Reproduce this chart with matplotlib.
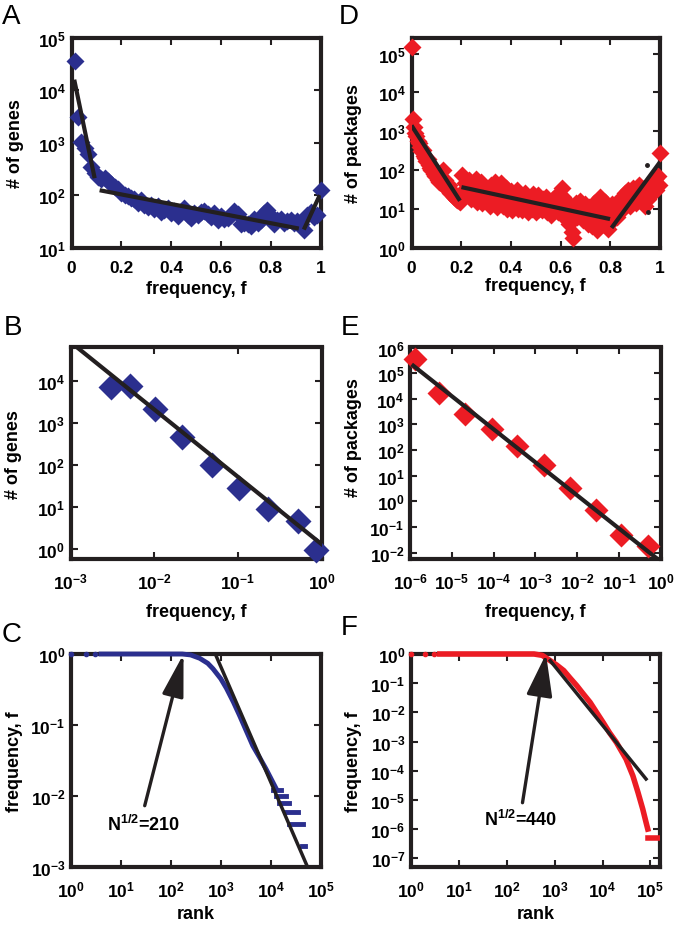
import numpy as np
import matplotlib
matplotlib.use('Agg')
import matplotlib.pyplot as plt

plt.rcParams['font.family'] = ['Liberation Sans', 'DejaVu Sans']
plt.rcParams['font.weight'] = 'bold'
plt.rcParams['mathtext.fontset'] = 'custom'
plt.rcParams['mathtext.rm'] = 'Liberation Sans:bold'
plt.rcParams['mathtext.bf'] = 'Liberation Sans:bold'
plt.rcParams['mathtext.it'] = 'Liberation Sans:bold'
plt.rcParams['mathtext.default'] = 'bf'
plt.rcParams['axes.unicode_minus'] = False

BLUE = '#2b2f8e'
RED = '#ec1c24'
INK = '#231f20'
W, H = 677, 929

# ---------- data ----------
# A: genes per frequency bin (f, count)
A_pts = [(0.013, 36000), (0.027, 3100), (0.04, 1050), (0.053, 800), (0.067, 620),
         (0.08, 350), (0.093, 260), (0.107, 220), (0.12, 200), (0.133, 210),
         (0.147, 190), (0.16, 160), (0.173, 140), (0.187, 130), (0.2, 110),
         (0.213, 100), (0.227, 95), (0.24, 90), (0.253, 85), (0.267, 72),
         (0.28, 80), (0.293, 66), (0.307, 60), (0.32, 65), (0.333, 55),
         (0.347, 62), (0.36, 48), (0.373, 52), (0.387, 56), (0.4, 45),
         (0.413, 50), (0.427, 40), (0.44, 48), (0.453, 58), (0.467, 42),
         (0.48, 36), (0.493, 45), (0.507, 42), (0.52, 48), (0.533, 50),
         (0.547, 44), (0.56, 38), (0.573, 45), (0.587, 33), (0.6, 40),
         (0.613, 35), (0.627, 36), (0.64, 42), (0.653, 50), (0.667, 44),
         (0.68, 28), (0.693, 30), (0.707, 28), (0.72, 26), (0.733, 35),
         (0.747, 30), (0.76, 34), (0.773, 45), (0.787, 52), (0.8, 40),
         (0.813, 28), (0.827, 33), (0.84, 35), (0.853, 30), (0.867, 32),
         (0.88, 34), (0.893, 30), (0.907, 32), (0.92, 28), (0.933, 22),
         (0.947, 42), (0.96, 48), (0.973, 38), (0.987, 42), (1.0, 124)]
A_fit = [([0.011, 0.093], [16000, 210]),
         ([0.113, 0.913], [124, 23]),
         ([0.933, 0.997], [22, 100])]

# D: packages per frequency bin (f, count)
D_pts = [(0.004, 150000),
         (0.005, 2000), (0.01, 1300), (0.015, 900), (0.02, 750), (0.025, 550),
         (0.03, 480), (0.035, 380), (0.04, 300), (0.045, 320), (0.05, 230),
         (0.055, 200), (0.06, 170), (0.065, 190), (0.07, 130), (0.075, 115),
         (0.08, 100), (0.085, 110), (0.09, 80), (0.095, 70), (0.1, 75),
         (0.105, 55), (0.11, 50), (0.115, 60), (0.12, 45), (0.125, 100),
         (0.13, 40), (0.135, 55), (0.14, 35), (0.145, 30), (0.15, 40),
         (0.155, 25), (0.16, 28), (0.165, 22), (0.17, 20), (0.175, 24),
         (0.18, 18), (0.185, 17), (0.19, 16), (0.195, 15),
         (0.205, 75), (0.21, 30), (0.215, 45), (0.22, 22), (0.225, 35),
         (0.23, 55), (0.235, 25), (0.24, 18), (0.245, 40), (0.25, 28),
         (0.255, 20), (0.26, 60), (0.265, 15), (0.27, 32), (0.275, 22),
         (0.28, 48), (0.285, 14), (0.29, 26), (0.295, 35), (0.3, 18),
         (0.31, 22), (0.315, 12), (0.32, 40), (0.325, 28), (0.33, 16),
         (0.335, 50), (0.34, 20), (0.345, 11), (0.35, 30), (0.355, 14),
         (0.36, 45), (0.365, 18), (0.37, 12), (0.375, 25), (0.38, 35),
         (0.385, 10), (0.39, 20), (0.395, 15), (0.4, 28), (0.405, 9),
         (0.41, 18), (0.415, 24), (0.42, 12), (0.425, 30), (0.43, 10),
         (0.435, 16), (0.44, 22), (0.445, 9), (0.45, 14), (0.455, 25),
         (0.46, 11), (0.465, 18), (0.47, 8), (0.475, 15), (0.48, 20),
         (0.485, 10), (0.49, 24), (0.495, 12), (0.5, 8), (0.505, 16),
         (0.51, 22), (0.515, 10), (0.52, 14), (0.525, 9), (0.53, 18),
         (0.535, 12), (0.54, 20), (0.545, 8), (0.55, 15), (0.555, 11),
         (0.56, 7), (0.565, 13), (0.57, 18), (0.575, 9), (0.58, 12),
         (0.585, 22), (0.59, 8), (0.595, 14), (0.6, 10), (0.605, 35),
         (0.61, 20), (0.615, 6), (0.62, 11), (0.625, 15), (0.63, 8),
         (0.635, 4), (0.64, 12), (0.645, 2.5), (0.65, 1.8), (0.655, 9),
         (0.66, 14), (0.665, 6), (0.67, 10), (0.675, 7), (0.68, 16),
         (0.685, 11), (0.69, 5), (0.695, 9), (0.7, 13), (0.705, 8),
         (0.71, 4), (0.715, 11), (0.72, 6), (0.725, 3.5), (0.73, 9),
         (0.735, 14), (0.74, 7), (0.745, 2.8), (0.75, 5), (0.755, 12),
         (0.76, 20), (0.765, 8), (0.77, 4), (0.775, 10), (0.78, 15),
         (0.785, 6), (0.79, 3), (0.795, 11), (0.8, 8),
         (0.805, 13), (0.81, 5), (0.815, 9), (0.82, 12), (0.825, 6),
         (0.83, 16), (0.835, 10), (0.84, 8), (0.845, 14), (0.85, 20),
         (0.855, 11), (0.86, 25), (0.865, 15), (0.87, 30), (0.875, 18),
         (0.88, 12), (0.885, 22), (0.89, 35), (0.895, 17), (0.9, 28),
         (0.905, 14), (0.91, 20), (0.915, 40), (0.92, 25), (0.925, 16),
         (0.93, 32), (0.935, 22), (0.94, 12), (0.945, 28), (0.95, 18),
         (0.955, 40), (0.96, 25), (0.965, 30), (0.97, 48), (0.975, 35),
         (0.98, 60), (0.985, 30), (0.99, 70), (0.995, 40), (1.0, 270)]
D_fit = [([0.0, 0.195], [1400, 16]),
         ([0.201, 0.799], [36, 5.4]),
         ([0.805, 1.0], [3.2, 160])]
D_dots_f = [0.949, 0.953]
D_dots_n = [130, 8]

# B: log-binned genes
fB = [0.00306, 0.00519, 0.0103, 0.0218, 0.0489, 0.1033, 0.231, 0.525, 0.85]
nB = [7000, 7500, 2100, 450, 100, 28, 8.9, 4.7, 0.96]
B_fit = ([1e-3, 1.0], [83000, 1.3])

# E: log-binned packages
fE = [1.32e-6, 4.9e-6, 2.04e-5, 8.9e-5, 3.63e-4, 1.58e-3, 6.6e-3, 2.75e-2, 0.112, 0.479]
nE = [3.5e5, 1.66e4, 2.5e3, 692, 148, 26, 3.2, 0.44, 0.049, 0.0186]
E_fit = ([1.2e-6, 0.83], [1.95e5, 5.6e-3])

# C: rank-frequency, genes
C_dot_rank = [1, 2, 3]
C_rank = [4, 170, 250, 380, 550, 700, 1000, 1300, 1800, 2400, 3200, 4400,
          6000, 8100, 10000, 12700]
C_freq = [1.0, 1.0, 0.97, 0.87, 0.74, 0.62, 0.45, 0.33, 0.21, 0.135, 0.085,
          0.051, 0.035, 0.024, 0.018, 0.013]
C_steps = [(0.012, 1.1e4, 1.6e4), (0.010, 1.26e4, 2.0e4), (0.008, 1.5e4, 2.3e4),
           (0.006, 1.9e4, 3.5e4), (0.004, 2.3e4, 4.4e4), (0.002, 4.2e4, 4.9e4)]
C_fit = ([780, 5.5e4], [1.0, 1e-3])
C_arrow = ((180, 1.0), (30, 0.0073))
C_note = (29, 0.0040, r'N$^{1/2}$=210')

# F: rank-frequency, packages
F_dot_rank = [1, 2, 3]
F_rank = [4, 370, 550, 810, 1100, 1550, 2100, 2900, 4000, 5500, 7500, 1.03e4,
          1.4e4, 1.95e4, 3.1e4, 4.3e4, 5.5e4, 6.9e4, 8.1e4, 8.8e4]
F_freq = [1.0, 1.0, 0.9, 0.59, 0.42, 0.27, 0.15, 0.082, 0.042, 0.022, 0.01,
          4.5e-3, 2e-3, 9.3e-4, 2.5e-4, 6.7e-5, 1.8e-5, 4.9e-6, 1.7e-6, 1e-6]
F_steps = [(4.9e-7, 8.8e4, 1.6e5)]
F_fit = ([810, 8.1e4], [0.59, 5.2e-5])
F_arrow = ((660, 1.0), (213, 8e-6))
F_note = (195, 2.2e-6, r'N$^{1/2}$=440')

# ---------- layout helpers ----------
fig = plt.figure(figsize=(W / 100, H / 100), dpi=100)


def add_ax(box):
    x0, y0, x1, y1 = box
    return fig.add_axes([x0 / W, 1 - y1 / H, (x1 - x0) / W, (y1 - y0) / H])


def pow10(exps):
    return [r'$10^{%d}$' % e for e in exps]


def style(ax, box, xlab, xlab_top, ylab, ylab_right, ylab_mid=None):
    x0, y0, x1, y1 = box
    for s in ax.spines.values():
        s.set_linewidth(3)
        s.set_color(INK)
    ax.minorticks_off()
    ax.tick_params(direction='in', top=True, right=True, length=5, width=1.5,
                   color=INK, labelsize=12.5)
    ax.tick_params(axis='x', pad=9)
    ax.tick_params(axis='y', pad=4)
    ax.set_xlabel(xlab, fontsize=13, fontweight='bold')
    ax.set_ylabel(ylab, fontsize=13, fontweight='bold')
    ax.xaxis.set_label_coords(0.5, (y1 - xlab_top) / (y1 - y0))
    if ylab_mid is None:
        ylab_mid = (y0 + y1) / 2
    ax.yaxis.set_label_coords((ylab_right - x0) / (x1 - x0), (y1 - ylab_mid) / (y1 - y0))


def letter(x, y, s):
    fig.text(x / W, 1 - y / H, s, fontsize=20, fontweight='normal',
             ha='left', va='top')


boxA = (71.5, 39, 320.5, 248.5)
boxD = (411.5, 39, 660, 248.5)
boxB = (70.5, 348.5, 321.5, 560)
boxE = (410, 348.5, 661, 560)
boxC = (71, 655, 320.5, 868)
boxF = (411, 655, 660, 868)

lin_ticks = [0, 0.2, 0.4, 0.6, 0.8, 1]
lin_labels = ['0', '0.2', '0.4', '0.6', '0.8', '1']

# ---------- A ----------
ax = add_ax(boxA)
fA, nA = zip(*A_pts)
ax.plot(fA, nA, 'D', ms=9, color=BLUE, mec='none', clip_on=False, zorder=3)
for xs, ys in A_fit:
    ax.plot(xs, ys, color=INK, lw=3, solid_capstyle='butt', zorder=4)
ax.set_yscale('log')
ax.set_xlim(0, 1)
ax.set_ylim(1e1, 1e5)
ax.set_xticks(lin_ticks, lin_labels)
ax.set_yticks([10.0 ** e for e in range(1, 6)], pow10(range(1, 6)))
style(ax, boxA, 'frequency, f', 281, '# of genes', 24)

# ---------- D ----------
ax = add_ax(boxD)
fD, nD = zip(*D_pts)
ax.plot(fD, nD, 'D', ms=9.5, color=RED, mec='none', clip_on=False, zorder=3)
for xs, ys in D_fit:
    ax.plot(xs, ys, color=INK, lw=3, solid_capstyle='butt', zorder=4)
ax.plot(D_dots_f, D_dots_n, 'o', ms=2.5, color=INK, zorder=4)
ax.set_yscale('log')
ax.set_xlim(0, 1)
ax.set_ylim(1, 10 ** 5.4)
ax.set_xticks(lin_ticks, lin_labels)
ax.set_yticks([10.0 ** e for e in range(0, 6)], pow10(range(0, 6)))
style(ax, boxD, 'frequency, f', 278, '# of packages', 362)

# ---------- B ----------
ax = add_ax(boxB)
ax.plot(fB, nB, 'D', ms=13, color=BLUE, mec='none', clip_on=False, zorder=3)
ax.plot(*B_fit, color=INK, lw=3, zorder=4)
ax.set_xscale('log')
ax.set_yscale('log')
ax.set_xlim(1e-3, 1)
ax.set_ylim(10 ** -0.24, 10 ** 4.79)
ax.set_xticks([10.0 ** e for e in range(-3, 1)], pow10(range(-3, 1)))
ax.set_yticks([10.0 ** e for e in range(0, 5)], pow10(range(0, 5)))
style(ax, boxB, 'frequency, f', 604, '# of genes', 22)

# ---------- E ----------
ax = add_ax(boxE)
ax.plot(fE, nE, 'D', ms=12, color=RED, mec='none', clip_on=False, zorder=3)
ax.plot(*E_fit, color=INK, lw=3, zorder=4)
ax.set_xscale('log')
ax.set_yscale('log')
ax.set_xlim(1e-6, 1)
ax.set_ylim(10 ** -2.25, 1e6)
ax.set_xticks([10.0 ** e for e in range(-6, 1)], pow10(range(-6, 1)))
ax.set_yticks([10.0 ** e for e in range(-2, 7)], pow10(range(-2, 7)))
style(ax, boxE, 'frequency, f', 604, '# of packages', 362, 438)

# ---------- C ----------
ax = add_ax(boxC)
ax.plot(C_dot_rank, [1.0] * len(C_dot_rank), 'o', ms=3, color=BLUE, clip_on=False, zorder=3)
ax.plot(C_rank, C_freq, color=BLUE, lw=3.5, clip_on=False, zorder=3)
for lev, r0, r1 in C_steps:
    ax.plot([r0, r1], [lev, lev], color=BLUE, lw=3.5, zorder=3)
ax.plot(*C_fit, color=INK, lw=2.5, zorder=4)
(tip, tail) = C_arrow
ax.annotate('', xy=tip, xytext=tail,
            arrowprops=dict(arrowstyle='-|>,head_length=1.3,head_width=0.33',
                            mutation_scale=20, lw=2.4, color=INK,
                            shrinkA=0, shrinkB=0), zorder=5)
ax.text(C_note[0], C_note[1], C_note[2], fontsize=13, fontweight='bold',
        ha='center', va='center')
ax.set_xscale('log')
ax.set_yscale('log')
ax.set_xlim(1, 1e5)
ax.set_ylim(1e-3, 1)
ax.set_xticks([10.0 ** e for e in range(0, 6)], pow10(range(0, 6)))
ax.set_yticks([10.0 ** e for e in range(-3, 1)], pow10(range(-3, 1)))
style(ax, boxC, 'rank', 906, 'frequency, f', 23)

# ---------- F ----------
ax = add_ax(boxF)
ax.plot(F_dot_rank, [1.0] * len(F_dot_rank), 'o', ms=3, color=RED, clip_on=False, zorder=3)
ax.plot(F_rank, F_freq, color=RED, lw=4, clip_on=False, zorder=3)
for lev, r0, r1 in F_steps:
    ax.plot([r0, r1], [lev, lev], color=RED, lw=4, zorder=3)
ax.plot(*F_fit, color=INK, lw=2.5, zorder=4)
(tip, tail) = F_arrow
ax.annotate('', xy=tip, xytext=tail,
            arrowprops=dict(arrowstyle='-|>,head_length=1.3,head_width=0.4',
                            mutation_scale=20, lw=2.4, color=INK,
                            shrinkA=0, shrinkB=0), zorder=5)
ax.text(F_note[0], F_note[1], F_note[2], fontsize=13, fontweight='bold',
        ha='center', va='center')
ax.set_xscale('log')
ax.set_yscale('log')
ax.set_xlim(1, 10 ** 5.2)
ax.set_ylim(10 ** -7.3, 1)
ax.set_xticks([10.0 ** e for e in range(0, 6)], pow10(range(0, 6)))
ax.set_yticks([10.0 ** e for e in range(-7, 1)], pow10(range(-7, 1)))
style(ax, boxF, 'rank', 906, 'frequency, f', 362)

letter(2, 4, 'A')
letter(339, 4, 'D')
letter(4, 315, 'B')
letter(341, 315, 'E')
letter(2, 622, 'C')
letter(341, 615, 'F')

fig.savefig('out.png', dpi=100)
